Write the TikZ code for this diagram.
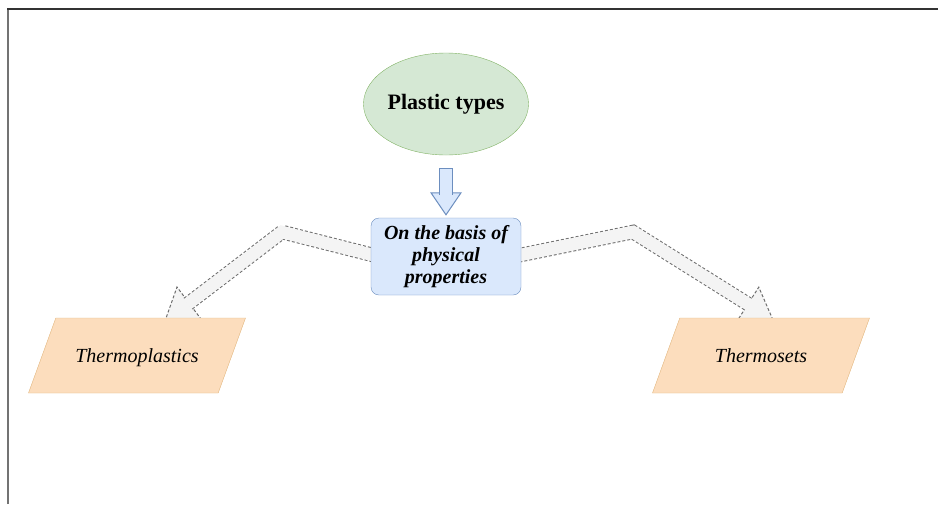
\documentclass[tikz,border=0pt]{standalone}
\usepackage{fontspec}
\setmainfont{Liberation Serif}
\usetikzlibrary{calc, shapes.geometric, backgrounds}

\definecolor{greenfill}{HTML}{D5E8D4}
\definecolor{greenline}{HTML}{82B366}
\definecolor{bluefill}{HTML}{DAE8FC}
\definecolor{blueline}{HTML}{6C8EBF}
\definecolor{orangefill}{HTML}{FCDDBD}
\definecolor{orangeline}{HTML}{E2B67E}
\definecolor{arrowfill}{HTML}{F4F4F4}
\definecolor{arrowline}{HTML}{6E6E6E}

\begin{document}
\begin{tikzpicture}[x=1pt, y=-1pt,
    typenode/.style={ellipse, draw=greenline, fill=greenfill, minimum width=158pt, minimum height=102pt, inner sep=0pt,
        font=\fontsize{22}{26}\selectfont\bfseries},
    basisnode/.style={draw=blueline, fill=bluefill, rounded corners=8pt, minimum width=150pt, minimum height=77pt,
        inner sep=0pt, align=center, font=\fontsize{20}{22}\selectfont\bfseries\itshape},
    classnode/.style={trapezium, trapezium left angle=70, trapezium right angle=110, trapezium stretches body=true,
        draw=orangeline, fill=orangefill, minimum width=217pt, inner sep=0pt, text height=44.5pt, text depth=30.5pt,
        font=\fontsize{20}{24}\selectfont\itshape},
    shaftout/.style={line width=14.5pt, draw=arrowline, dash pattern=on 3pt off 2pt},
    shaftin/.style={line width=12.5pt, draw=arrowfill},
    headbox/.style={draw=arrowline, fill=arrowfill, dash pattern=on 3pt off 2pt, line width=1pt}]

    \useasboundingbox (0,0) rectangle (938,504);

    % frame
    \draw[line width=1.5pt, draw=black!55] (8,504) -- (8,9);
    \draw[line width=1.5pt, draw=black!80] (7.25,9) -- (938,9);

    % nodes
    \node[typenode] (ptype) at (446,104) {Plastic types};
    \node[basisnode] (pp) at (446,256.5) {On the basis of\\physical\\properties};
    \node[classnode] (thp) at (137,355.5) {Thermoplastics};
    \node[classnode] (ths) at (761,355.5) {Thermosets};

    \begin{scope}[on background layer]
        % down arrow
        \coordinate (dtop) at ($(ptype.south)+(0,13)$);
        \coordinate (dtip) at ($(pp.north)+(0,-3)$);
        \coordinate (dbase) at ($(dtip)+(0,-22)$);
        \draw[draw=blueline, fill=bluefill, line width=1pt] (dtip) -- ($(dbase)!15pt!90:(dtip)$) -- ($(dbase)!15pt!-90:(dtip)$) -- cycle;
        \draw[line width=14pt, draw=blueline] (dtop) -- ($(dbase)!2pt!(dtip)$);
        \draw[line width=12pt, draw=bluefill, shorten <=1pt] (dtop) -- ($(dbase)!2pt!(dtip)$);

        % left branch
        \coordinate (lbend) at (282,232);
        \coordinate (lbase) at (189,303);
        \coordinate (ltip) at (165,321);
        \draw[headbox] (ltip) -- ($(lbase)!20pt!90:(ltip)$) -- ($(lbase)!20pt!-90:(ltip)$) -- cycle;
        \draw[shaftout] ([xshift=8pt]pp.west) -- (lbend) -- ($(lbase)!2pt!(ltip)$);
        \draw[shaftin] ([xshift=8pt]pp.west) -- (lbend) -- ($(lbase)!2pt!(ltip)$);

        % right branch
        \coordinate (rbend) at (633,232);
        \coordinate (rbase) at (748,304);
        \coordinate (rtip) at (773,320);
        \draw[headbox] (rtip) -- ($(rbase)!20pt!90:(rtip)$) -- ($(rbase)!20pt!-90:(rtip)$) -- cycle;
        \draw[shaftout] ([xshift=-8pt]pp.east) -- (rbend) -- ($(rbase)!2pt!(rtip)$);
        \draw[shaftin] ([xshift=-8pt]pp.east) -- (rbend) -- ($(rbase)!2pt!(rtip)$);
    \end{scope}

\end{tikzpicture}
\end{document}
